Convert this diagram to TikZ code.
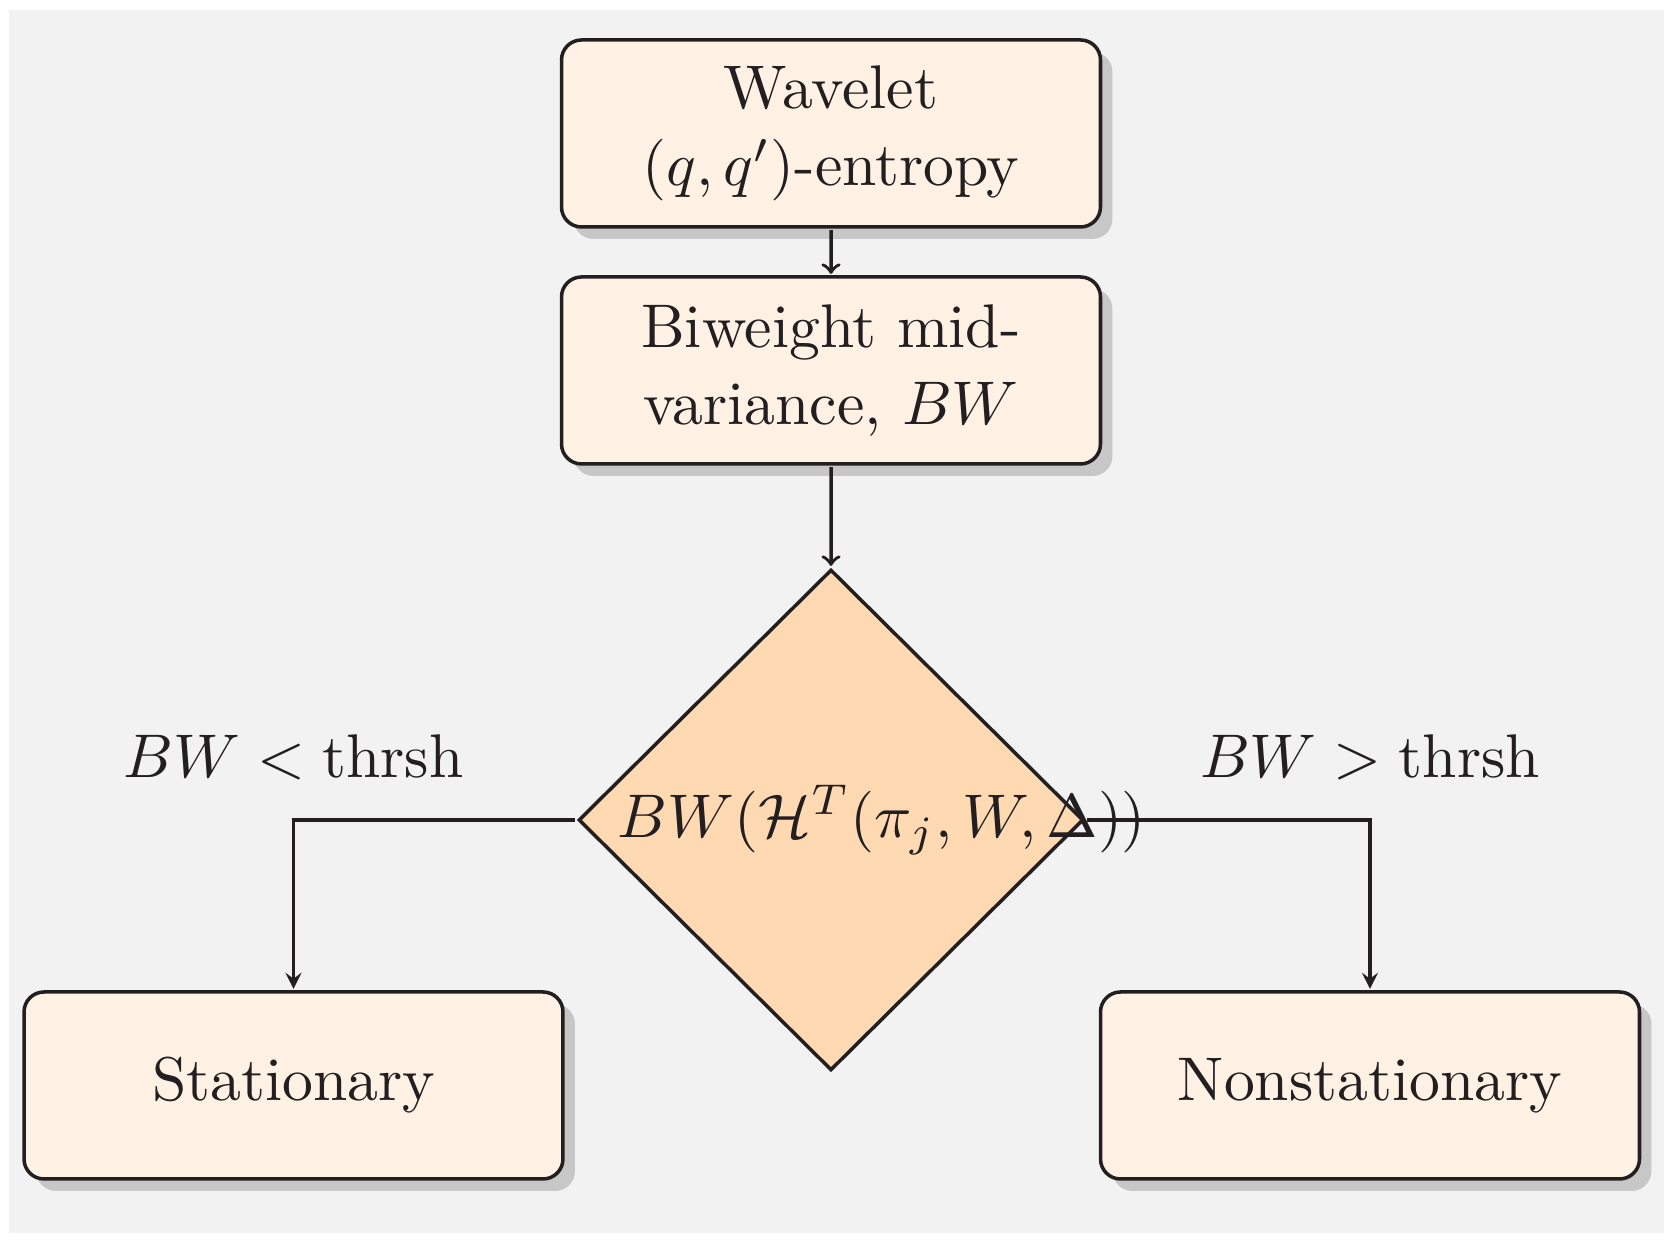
\documentclass[tikz,border=0pt]{standalone}
\usetikzlibrary{positioning,shapes.geometric,shadows}
\definecolor{ink}{RGB}{35,31,32}

\begin{document}
\begin{tikzpicture}[color=ink, line width=1pt,
		every node/.append style = {scale=1.755, font=\fontsize{10}{12.5}\selectfont},
		procbox/.style = {rectangle, rounded corners=2mm, draw, fill=orange!10, align=center,
			minimum width=3.071cm, minimum height=1.0655cm,
			drop shadow={shadow xshift=1.2mm, shadow yshift=-1.2mm, fill=black!22, opacity=1}},
		decbox/.style = {diamond, draw, fill=orange!30, inner sep=0pt, minimum width=2.883cm, minimum height=2.860cm}
	]
	\useasboundingbox (0,0) rectangle (16.71,12.48);
	\fill[gray!10] (0.09,0.15) rectangle (16.64,12.38);
	\node[procbox] (wav) at (8.31,11.145) {Wavelet\\$(q,q')$-entropy};
	\node[procbox] (bw) at (8.31,8.775) {Biweight mid-\\variance, $BW$};
	\node[decbox] (dec) at (8.31,4.28) {\makebox[0pt][l]{\hspace*{-1.214cm}$BW(\mathcal{H}^T(\pi_j,W,\Delta))$}};
	\node[procbox] (sta) at (2.935,1.625) {Stationary};
	\node[procbox] (non) at (13.70,1.625) {Nonstationary};
	\draw[->] (wav) -- (bw);
	\draw[->] (bw) -- (dec);
	\draw[-stealth] (dec.west) -| node[pos=0.5, anchor=base, yshift=2.4mm] {$BW < \mathrm{thrsh}$} (sta.north);
	\draw[-stealth] (dec.east) -| node[pos=0.5, anchor=base, yshift=2.4mm] {$BW > \mathrm{thrsh}$} (non.north);
\end{tikzpicture}
\end{document}
